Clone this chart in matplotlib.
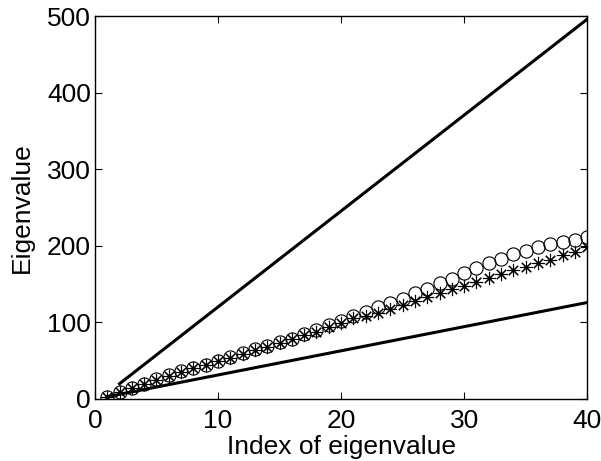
#!/usr/bin/env python3

import numpy as np
import matplotlib
matplotlib.use("Agg")
import matplotlib.pyplot as plt

plt.rcParams['font.family'] = ['Liberation Sans', 'DejaVu Sans']

# index of eigenvalue
index = np.arange(1, 41)

# circles (upper marker series)
circles = [3, 9, 15, 20, 26, 31, 36, 41, 45, 50,
           55, 60, 65, 69, 75, 79, 85, 90, 96, 102,
           108, 114, 120, 125, 131, 138, 144, 151, 157, 164,
           171, 177, 183, 189, 193, 198, 202, 205, 208, 211]

# asterisks (lower marker series)
stars = [3, 9, 14, 20, 25, 30, 35, 40, 44, 49,
         54, 59, 64, 68, 73, 78, 83, 88, 94, 99,
         106, 109, 112, 118, 123, 128, 133, 138, 143, 148,
         153, 158, 163, 168, 172, 178, 182, 188, 192, 198]

# bounding lines (end points)
upper_x = [2, 40]
upper_y = [20, 496]
lower_x = [1, 40]
lower_y = [3, 126]

fig = plt.figure(figsize=(6.01, 4.61), dpi=100)
ax = fig.add_axes([0.158, 0.1345, 0.819, 0.8305])

ax.plot(upper_x, upper_y, c='k', lw=2.2)
ax.plot(lower_x, lower_y, c='k', lw=2.2)
ax.plot(index, circles, ls='none', marker='o', ms=9.5, mfc='none', mec='k', mew=0.8)
ax.plot(index, stars, ls='none', marker=(8, 2, 0), ms=9.5, mec='k', mew=0.8)

ax.set_xlim(0, 40)
ax.set_ylim(0, 500)
ax.set_xticks([0, 10, 20, 30, 40])
ax.set_yticks([0, 100, 200, 300, 400, 500])
ax.tick_params(direction='in', top=True, right=True, length=5, labelsize=19)
ax.tick_params(axis='x', pad=7.5)
ax.tick_params(axis='y', pad=3)
for s in ax.spines.values():
    s.set_linewidth(1.0)

ax.set_xlabel("Index of eigenvalue", fontsize=19, labelpad=1)
ax.set_ylabel("Eigenvalue", fontsize=19, labelpad=9)

fig.savefig("out.png", dpi=100)
